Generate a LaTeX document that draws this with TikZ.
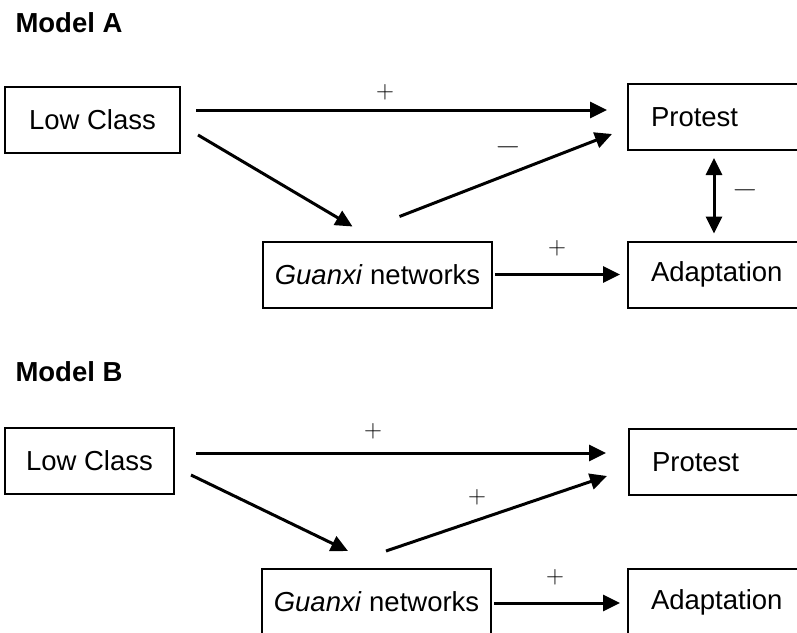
\documentclass[tikz,border=0pt]{standalone}
\usepackage{fontspec}
\setmainfont{Liberation Sans}
\usetikzlibrary{arrows.meta,calc}
\newcommand{\negsign}{\scalebox{1.35}[1]{$-$}}

\begin{document}
\begin{tikzpicture}[x=1pt, y=-1pt, font=\fontsize{27.5}{33}\selectfont]
  \tikzstyle{box} = [draw, line width=2pt, minimum height=66pt, inner sep=0pt]
  \tikzstyle{rbox} = [box, anchor=west, text width=154pt, align=left, inner xsep=23pt]
  \tikzstyle{arrow} = [-{Triangle[length=17pt,width=16pt]}, line width=3pt]
  \tikzstyle{sign} = [inner sep=0pt, font=\fontsize{25}{30}\selectfont]
  \tikzstyle{title} = [anchor=base west, font=\fontsize{27.5}{33}\selectfont\bfseries]

  \useasboundingbox (0,0) rectangle (797,632);

  % Model A
  \node[title] (titleA) at (12,32) {Model A};
  \node[box, minimum width=175pt] (lcA) at (92.5,120) {Low Class};
  \node[rbox] (protA) at (627,117) {Protest};
  \node[rbox] (adaptA) at (627,274.5) {Adaptation};
  \node[box, minimum width=229pt] (guanA) at (377.5,274.5) {\textit{Guanxi} networks};

  \draw[arrow] ($(lcA.east)+(15,-10)$) -- ($(protA.west)+(-20,-7)$);
  \draw[arrow] ($(lcA.south east)+(17,-19)$) -- ($(guanA.north)+(-25,-14)$);
  \draw[arrow] ($(guanA.north)+(22,-24)$) -- ($(protA.west)+(-15,17)$);
  \draw[arrow, {Triangle[length=17pt,width=16pt]}-{Triangle[length=17pt,width=16pt]}] ($(protA.south west)+(87,7)$) -- ($(adaptA.north west)+(87,-7)$);
  \draw[arrow] ($(guanA.east)+(2,0)$) -- ($(adaptA.west)+(-7,0)$);

  \node[sign] (plusA1) at (385,92) {$+$};
  \node[sign] (minusA1) at (508,147) {\negsign};
  \node[sign] (minusA2) at (745,190) {\negsign};
  \node[sign] (plusA2) at (557,248) {$+$};

  % Model B
  \node[title] (titleB) at (12,381) {Model B};
  \node[box, minimum width=169pt] (lcB) at (89.5,461) {Low Class};
  \node[rbox] (protB) at (628,462) {Protest};
  \node[rbox] (adaptB) at (627,602) {Adaptation};
  \node[box, minimum width=229pt] (guanB) at (376.5,602) {\textit{Guanxi} networks};

  \draw[arrow] ($(lcB.east)+(21,-8)$) -- ($(protB.west)+(-22,-9)$);
  \draw[arrow] ($(lcB.south east)+(16,-20)$) -- ($(guanB.north)+(-28.5,-17)$);
  \draw[arrow] ($(guanB.north)+(9.5,-17)$) -- ($(protB.west)+(-21,14)$);
  \draw[arrow] ($(guanB.east)+(2,1)$) -- ($(adaptB.west)+(-7,1)$);

  \node[sign] (plusB1) at (373,431) {$+$};
  \node[sign] (plusB2) at (477,497) {$+$};
  \node[sign] (plusB3) at (555,577) {$+$};
\end{tikzpicture}
\end{document}
